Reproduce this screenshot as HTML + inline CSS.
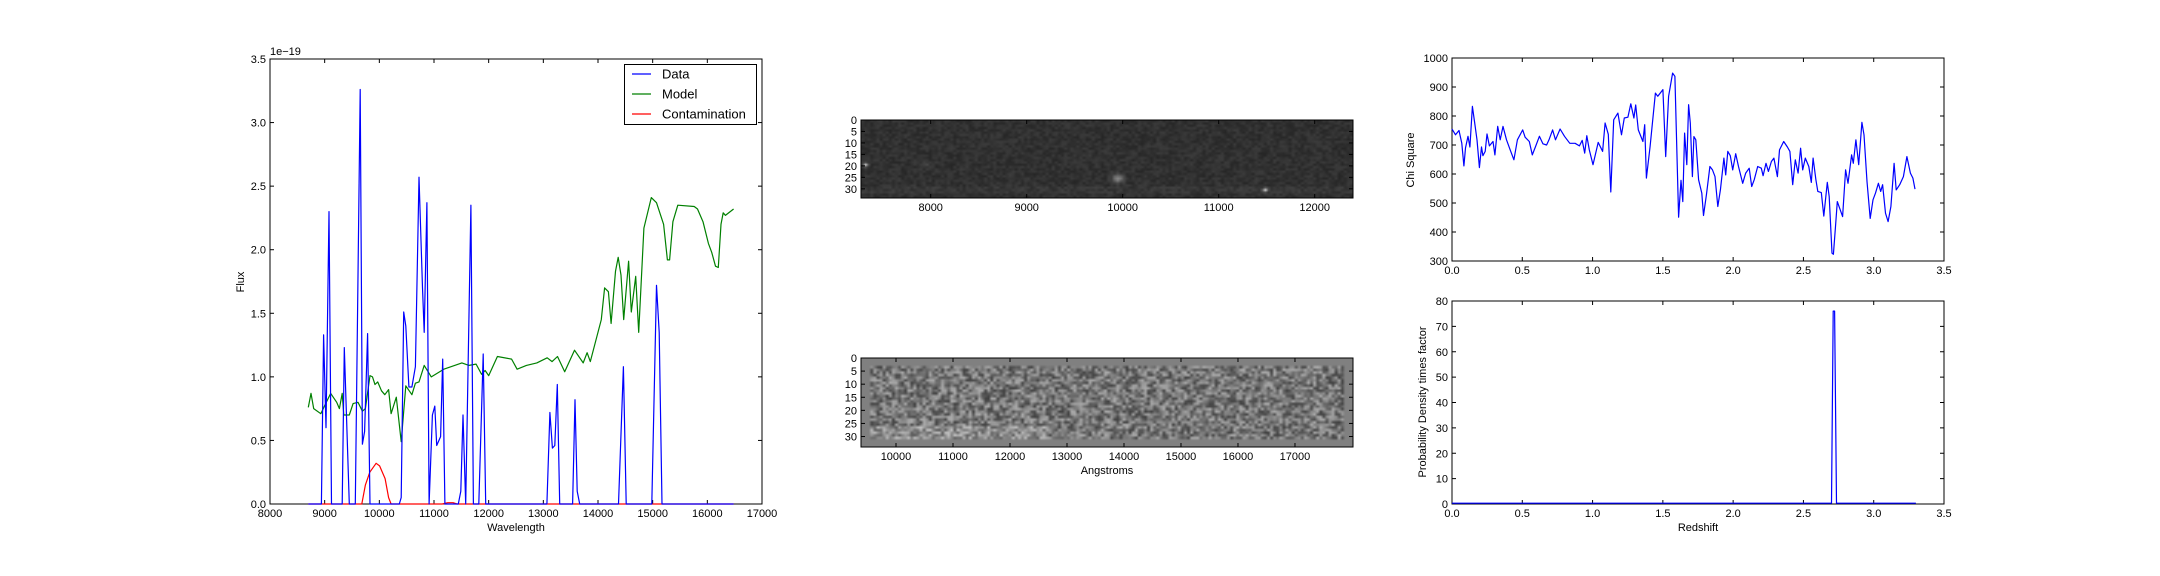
<!DOCTYPE html>
<html><head><meta charset="utf-8"><style>
html,body{margin:0;padding:0;background:#fff;}
body{width:2160px;height:576px;overflow:hidden;position:relative;font-family:"Liberation Sans",sans-serif;}
svg{position:absolute;left:0;top:0;}
canvas{position:absolute;}
</style></head><body>
<canvas id="img-top" style="left:861px;top:120px;width:492px;height:78px" width="160" height="34"></canvas>
<canvas id="img-bot" style="left:861px;top:358px;width:492px;height:89px" width="160" height="34"></canvas>
<svg id="fig" width="2160" height="576" xmlns="http://www.w3.org/2000/svg"></svg>
<script>
// ---- spectrum data (left panel) ----
const modelWave=[8700,8750,8800,8930,9030,9110,9220,9270,9320,9350,9450,9520,9610,9690,9745,9830,9875,9920,9970,10040,10100,10170,10215,10310,10400,10485,10595,10660,10725,10820,10950,11180,11510,11640,11770,11870,11935,12000,12160,12420,12520,12690,12880,13070,13160,13260,13390,13570,13730,13800,13860,14060,14120,14190,14240,14320,14370,14420,14470,14560,14610,14690,14745,14840,14975,15070,15200,15270,15310,15370,15460,15760,15820,15920,16020,16080,16150,16200,16250,16290,16330,16480];
const modelFlux=[0.76,0.87,0.75,0.71,0.80,0.87,0.80,0.75,0.87,0.70,0.70,0.79,0.80,0.73,0.75,1.01,1.00,0.94,0.96,0.89,0.86,0.90,0.71,0.84,0.49,0.93,0.86,0.95,0.96,1.09,1.00,1.06,1.11,1.09,1.10,1.02,1.05,1.01,1.16,1.14,1.06,1.09,1.11,1.15,1.12,1.16,1.04,1.21,1.11,1.19,1.12,1.45,1.70,1.67,1.42,1.83,1.94,1.80,1.45,1.91,1.51,1.79,1.35,2.17,2.41,2.37,2.20,1.92,1.92,2.22,2.35,2.34,2.32,2.22,2.05,1.98,1.87,1.86,2.20,2.29,2.27,2.32];
const dataWave=[8700,8940,8980,9025,9080,9125,9320,9360,9450,9560,9650,9690,9730,9785,9830,10365,10400,10445,10485,10540,10595,10660,10725,10790,10820,10870,10910,10970,11015,11050,11120,11160,11200,11445,11490,11530,11580,11675,11720,11820,11900,11945,13065,13120,13165,13210,13255,13300,13535,13580,13620,13665,14375,14465,14515,14985,15070,15120,15170,16480];
const dataFlux=[0,0,1.33,0.60,2.30,0,0,1.23,0,0,3.26,0.47,0.57,1.34,0,0,0.05,1.51,1.40,0.92,0.92,1.08,2.57,1.70,1.35,2.37,0,0.70,0.77,0.46,0.53,1.14,0,0,0.10,0.70,0,2.35,0,0,1.18,0,0,0.72,0.44,0.46,0.94,0,0,0.82,0.10,0,0,1.08,0,0,1.72,1.35,0,0];
const contWave=[8700,9680,9745,9825,9940,10005,10105,10170,10215,11150,11250,11350,11420,16480];
const contFlux=[0,0,0.15,0.25,0.32,0.30,0.20,0.05,0,0,0.01,0.01,0,0];
const specXTicks=[8000,9000,10000,11000,12000,13000,14000,15000,16000,17000];
const specYTicks=[0,0.5,1.0,1.5,2.0,2.5,3.0,3.5];
// ---- chi square (right top) ----
const chiZ=[0,0.025,0.05,0.07,0.085,0.096,0.114,0.127,0.145,0.16,0.178,0.195,0.21,0.22,0.236,0.249,0.266,0.292,0.305,0.325,0.343,0.363,0.388,0.414,0.44,0.465,0.503,0.52,0.55,0.571,0.596,0.622,0.647,0.673,0.69,0.716,0.736,0.769,0.8,0.838,0.876,0.906,0.926,0.944,0.959,0.977,1.003,1.04,1.071,1.089,1.112,1.13,1.15,1.18,1.206,1.226,1.251,1.272,1.294,1.307,1.325,1.358,1.371,1.383,1.409,1.447,1.464,1.5,1.52,1.541,1.569,1.586,1.612,1.629,1.642,1.655,1.67,1.683,1.695,1.71,1.721,1.734,1.754,1.777,1.789,1.81,1.835,1.853,1.871,1.891,1.909,1.934,1.947,1.962,1.98,1.997,2.018,2.038,2.068,2.089,2.114,2.132,2.15,2.175,2.2,2.213,2.234,2.251,2.272,2.29,2.315,2.33,2.36,2.386,2.404,2.424,2.442,2.462,2.48,2.495,2.513,2.538,2.556,2.569,2.589,2.602,2.627,2.645,2.67,2.683,2.703,2.713,2.728,2.741,2.779,2.8,2.817,2.843,2.855,2.873,2.893,2.916,2.931,2.952,2.975,2.995,3.013,3.033,3.05,3.063,3.084,3.102,3.122,3.145,3.16,3.185,3.211,3.236,3.261,3.279,3.294];
const chiVal=[755,735,750,706,628,690,730,693,833,781,718,622,693,663,678,738,697,712,666,764,718,764,718,683,649,718,752,727,712,666,697,730,704,700,718,752,718,755,730,706,706,697,716,672,732,683,632,709,678,776,737,538,787,810,735,793,796,842,793,838,752,712,770,586,695,879,868,891,660,868,948,937,451,578,505,741,632,839,776,591,729,718,580,534,457,528,626,614,591,488,545,655,597,678,663,614,670,626,568,603,620,557,580,626,620,594,637,609,643,655,591,683,712,693,678,563,649,603,689,614,655,626,571,655,580,540,536,455,571,522,327,323,419,505,453,614,568,666,637,718,632,778,735,574,447,511,534,568,540,563,465,436,488,637,545,563,591,660,603,586,548];
const chiXTicks=[0,0.5,1.0,1.5,2.0,2.5,3.0,3.5];
const chiYTicks=[300,400,500,600,700,800,900,1000];
// ---- probability density (right bottom) ----
const pdfZ=[0,2.70,2.712,2.722,2.735,3.30];
const pdfVal=[0.3,0.3,76,76,0.3,0.3];
const pdfYTicks=[0,10,20,30,40,50,60,70,80];
// ---- image axes ----
const imgTopXTicks=[8000,9000,10000,11000,12000];
const imgBotXTicks=[10000,11000,12000,13000,14000,15000,16000,17000];
const imgYTicks=[0,5,10,15,20,25,30];

const NS='http://www.w3.org/2000/svg';
const svg=document.getElementById('fig');
function el(tag,attrs,parent){const e=document.createElementNS(NS,tag);for(const k in attrs)e.setAttribute(k,attrs[k]);(parent||svg).appendChild(e);return e;}
function txt(s,x,y,attrs,parent){const t=el('text',Object.assign({x:x,y:y,'font-size':11,fill:'#000','font-family':'Liberation Sans, sans-serif'},attrs),parent);t.textContent=s;return t;}
function fmt(v,d){return v.toFixed(d);}

function axes(name,L,T,R,B,xmin,xmax,ymin,ymax,xt,yt,xd,yd,opts){
  const g=el('g',{});
  
  
  const sx=v=>L+(v-xmin)/(xmax-xmin)*(R-L);
  const sy=v=>B-(v-ymin)/(ymax-ymin)*(B-T);
  if(!opts.noBox){const r=el('rect',{x:L,y:T,width:R-L,height:B-T,fill:'none',stroke:'#000','stroke-width':1},g);
  }
  xt.forEach(v=>{const x=sx(v);
    el('line',{x1:x,y1:B,x2:x,y2:B-4,stroke:'#000','stroke-width':1},g);
    el('line',{x1:x,y1:T,x2:x,y2:T+4,stroke:'#000','stroke-width':1},g);
    const t=txt(opts.xfmt?opts.xfmt(v):fmt(v,xd),x,B+13,{'text-anchor':'middle'},g);
    });
  yt.forEach(v=>{const y=opts.yinv?T+(v-ymin)/(ymax-ymin)*(B-T):sy(v);
    el('line',{x1:L,y1:y,x2:L+4,y2:y,stroke:'#000','stroke-width':1},g);
    el('line',{x1:R,y1:y,x2:R-4,y2:y,stroke:'#000','stroke-width':1},g);
    const t=txt(fmt(v,yd),L-4,y+4,{'text-anchor':'end'},g);
    });
  return {sx,sy,g};
}
function line(ax,xs,ys,color,name){
  const d=xs.map((x,i)=>(i?'L':'M')+ax.sx(x).toFixed(1)+' '+ax.sy(ys[i]).toFixed(1)).join(' ');
  const p=el('path',{d:d,fill:'none',stroke:color,'stroke-width':1.2,'stroke-linejoin':'round'},ax.g);
  
}

// Left spectrum
const A=axes('spectrum-plot',270,59,762,504,8000,17000,0,3.5,specXTicks,specYTicks,0,1,{});
const clip=el('clipPath',{id:'cA'});el('rect',{x:270,y:59,width:492,height:445},clip);
line(A,modelWave,modelFlux,'#008000','model-line');
line(A,contWave,contFlux,'#ff0000','contamination-line');
line(A,dataWave,dataFlux,'#0000ff','data-line');
let t=txt('1e\u221219',270,55,{'font-size':11});
t=txt('Flux',244,282,{'text-anchor':'middle',transform:'rotate(-90 244 282)'});
t=txt('Wavelength',516,531,{'text-anchor':'middle'});
// legend
const lg=el('g',{});
el('rect',{x:624.5,y:64.5,width:132,height:60,fill:'#fff',stroke:'#000','stroke-width':1},lg);
[['Data','#0000ff',74],['Model','#008000',94],['Contamination','#ff0000',114]].forEach(e=>{
  const eg=el('g',{},lg);
  el('line',{x1:632,y1:e[2],x2:651,y2:e[2],stroke:e[1],'stroke-width':1.2},eg);
  txt(e[0],662,e[2]+4.5,{'font-size':13},eg);
});

// Middle images axes
axes('direct-image-axes',861,120,1353,198,7274,12399,0,34,imgTopXTicks,imgYTicks,0,0,{yinv:true});
axes('residual-image-axes',861,358,1353,447,9386,18018,0,34,imgBotXTicks,imgYTicks,0,0,{yinv:true});
t=txt('Angstroms',1107,474,{'text-anchor':'middle'});

// Right top chi square
const C=axes('chi-square-plot',1452,58,1944,261,0,3.5,300,1000,chiXTicks,chiYTicks,1,0,{});
line(C,chiZ,chiVal,'#0000ff','chi-square-line');
t=txt('Chi Square',1414,160,{'text-anchor':'middle',transform:'rotate(-90 1414 160)'});
// Right bottom pdf
const P=axes('probability-plot',1452,301,1944,504,0,3.5,0,80,chiXTicks,pdfYTicks,1,0,{});
line(P,pdfZ,pdfVal,'#0000ff','probability-line');
t=txt('Probability Density times factor',1426,402,{'text-anchor':'middle',transform:'rotate(-90 1426 402)'});
t=txt('Redshift',1698,531,{'text-anchor':'middle'});

// images (deterministic texture)
function hash(i,j,s){let h=(i*374761393+j*668265263+s*1442695041)|0;h=(h^(h>>>13))*1274126177|0;h=h^(h>>>16);return ((h>>>0)%10000)/10000;}
function paint(id,fn){const c=document.getElementById(id);const ctx=c.getContext('2d');const im=ctx.createImageData(160,34);
  for(let j=0;j<34;j++)for(let i=0;i<160;i++){const v=Math.max(0,Math.min(255,fn(i,j)));const k=(j*160+i)*4;im.data[k]=im.data[k+1]=im.data[k+2]=v;im.data[k+3]=255;}
  ctx.putImageData(im,0,0);}
paint('img-top',(i,j)=>{let v=38+hash(i,j,1)*22;
  const spot=(cx,cy,a,r)=>a*Math.exp(-((i-cx)**2+(j-cy)**2)/r);
  v+=spot(83,25,90,3)+spot(131,30,160,0.6)+spot(1,19,150,0.6)+spot(20,19,25,2);
  if(j>=29&&j<=31)v+=6;return v;});
paint('img-bot',(i,j)=>{const x0=3,x1=156;
  if(i<x0||i>x1||j<3||j>30)return 128;
  let v=118+(hash(i,j,2)-0.5)*110;
  if(j>=26&&j<=30&&i<60)v+=25;return v;});
</script>
</body></html>
